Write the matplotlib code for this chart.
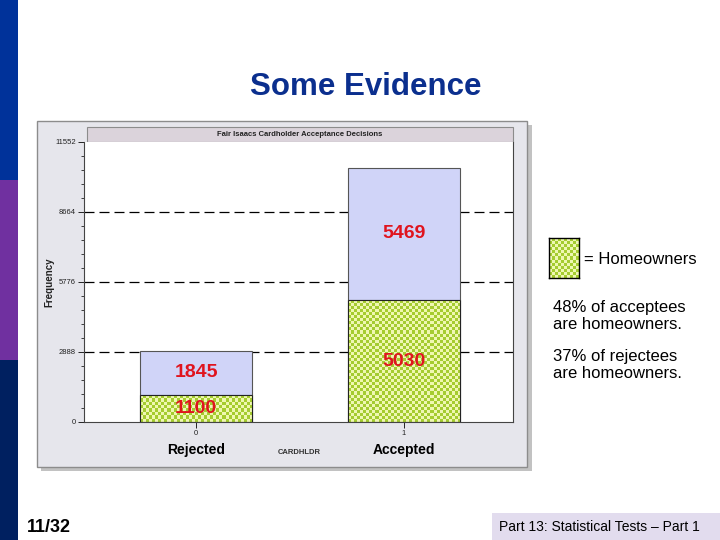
import numpy as np
import matplotlib.pyplot as plt
from matplotlib.patches import Rectangle

plt.rcParams['font.family'] = ['Liberation Sans', 'DejaVu Sans']

# data
groups = ['Rejected', 'Accepted']
codes = [0, 1]
homeowners = [1100, 5030]
others = [1845, 5469]
yticks = [0, 2888, 5776, 8664, 11552]
notes = ['48% of acceptees\nare homeowners.', '37% of rejectees\nare homeowners.']

W, H = 720, 540
fig = plt.figure(figsize=(7.2, 5.4), dpi=100)


def fx(x):
    return x / W


def fy(y):
    return 1 - y / H


def box(x0, y0, x1, y1, z=-5, **kw):
    r = Rectangle((fx(x0), fy(y1)), fx(x1 - x0), (y1 - y0) / H,
                  transform=fig.transFigure, zorder=z, **kw)
    fig.patches.append(r)
    return r


def checker(nr, nc):
    i, j = np.indices((nr, nc))
    c = ((i + j) % 2)[..., None]
    green = np.array([0.65, 0.80, 0.19])
    pale = np.array([0.94, 0.97, 0.70])
    return c * green + (1 - c) * pale


# slide side bar
box(0, 0, 18, 180, facecolor='#00329a', lw=0)
box(0, 180, 18, 360, facecolor='#7030a0', lw=0)
box(0, 360, 18, 540, facecolor='#002060', lw=0)

fig.text(fx(366), fy(87), 'Some Evidence', ha='center', va='center',
         fontsize=22.5, fontweight='bold', color='#0b2f8e')

# chart panel + shadow
box(41, 125, 532, 471, z=-4, facecolor='#9a9a9a', lw=0, alpha=0.6)
box(37, 121, 527, 467, z=-3, facecolor='#e6e6ec', edgecolor='#8c8c8c', lw=1)
box(87, 127, 513, 142, z=-2, facecolor='#dbd3db', edgecolor='#8c8c8c', lw=0.8)
fig.text(fx(300), fy(134.5), 'Fair Isaacs Cardholder Acceptance Decisions',
         ha='center', va='center', fontsize=5.5, fontweight='bold', color='#222222')

ax = fig.add_axes([fx(84), fy(422), (513 - 84) / W, (422 - 142) / H])
ax.set_facecolor('white')
width = 0.54
low = ax.bar(codes, homeowners, width=width, color='#c8dc70', edgecolor='#222222', lw=0.8, zorder=2)
high = ax.bar(codes, others, bottom=homeowners, width=width, color='#d0d4f8',
              edgecolor='#555555', lw=0.8, zorder=2)

# checkerboard fill for homeowners
for p in low.patches:
    x0, y0 = p.get_x(), p.get_y()
    w, h = p.get_width(), p.get_height()
    nc = int(w * 208 / 3)
    nr = max(int(h * 280 / 11552 / 3), 1)
    im = ax.imshow(checker(nr, nc), extent=(x0, x0 + w, y0, y0 + h),
                   aspect='auto', interpolation='nearest', zorder=2.5)
    im.set_clip_path(p)
for p in low.patches:
    ax.add_patch(Rectangle((p.get_x(), p.get_y()), p.get_width(), p.get_height(),
                           fill=False, edgecolor='#222222', lw=0.8, zorder=3))

for i in range(2):
    ax.text(codes[i], homeowners[i] / 2, str(homeowners[i]), ha='center', va='center',
            fontsize=14, fontweight='bold', color='#e0141e', zorder=4)
    ax.text(codes[i], homeowners[i] + others[i] / 2, str(others[i]), ha='center',
            va='center', fontsize=14, fontweight='bold', color='#e0141e', zorder=4)
    ax.text(codes[i], -0.1, groups[i], transform=ax.get_xaxis_transform(),
            ha='center', va='center', fontsize=10, fontweight='bold', color='black')

for v in yticks[1:-1]:
    ax.axhline(v, color='black', lw=0.9, linestyle=(0, (8, 4)), zorder=1)

ax.set_xlim(-0.54, 1.524)
ax.set_ylim(0, 11552)
ax.set_yticks(yticks)
ax.set_yticks(np.arange(0, 11553, 577.6), minor=True)
ax.set_xticks(codes)
ax.tick_params(axis='both', labelsize=5.5, colors='#222222', length=4, width=0.7, pad=2)
ax.tick_params(axis='y', which='minor', length=2, width=0.6, colors='#222222')
ax.set_xlabel('CARDHLDR', fontsize=5.5, fontweight='bold', color='#333333')
ax.xaxis.set_label_coords((299 - 84) / 429, -(449 - 422) / 280)
ax.set_ylabel('Frequency', fontsize=7, fontweight='bold', color='#222222')
ax.yaxis.set_label_coords((54 - 84) / 429, 0.5)
ax.spines['top'].set_visible(False)
for s in ['left', 'bottom', 'right']:
    ax.spines[s].set_color('#444444')
    ax.spines[s].set_linewidth(0.8)

# legend swatch
lax = fig.add_axes([fx(549), fy(278), 30 / W, 40 / H])
lax.imshow(checker(13, 10), aspect='auto', interpolation='nearest')
lax.set_xticks([])
lax.set_yticks([])
for s in lax.spines.values():
    s.set_linewidth(1)
    s.set_color('black')
fig.text(fx(584), fy(259), '= Homeowners', ha='left', va='center', fontsize=12)
fig.text(fx(553), fy(316), notes[0], ha='left', va='center', fontsize=12, linespacing=1.2)
fig.text(fx(553), fy(365), notes[1], ha='left', va='center', fontsize=12, linespacing=1.2)

# footer
fig.text(fx(27), fy(527), '11/32', ha='left', va='center', fontsize=13, fontweight='bold')
box(492, 513, 720, 540, facecolor='#e2dcee', lw=0)
fig.text(fx(499), fy(527), 'Part 13: Statistical Tests \u2013 Part 1', ha='left', va='center',
         fontsize=10)

fig.savefig('out.png', dpi=100)
